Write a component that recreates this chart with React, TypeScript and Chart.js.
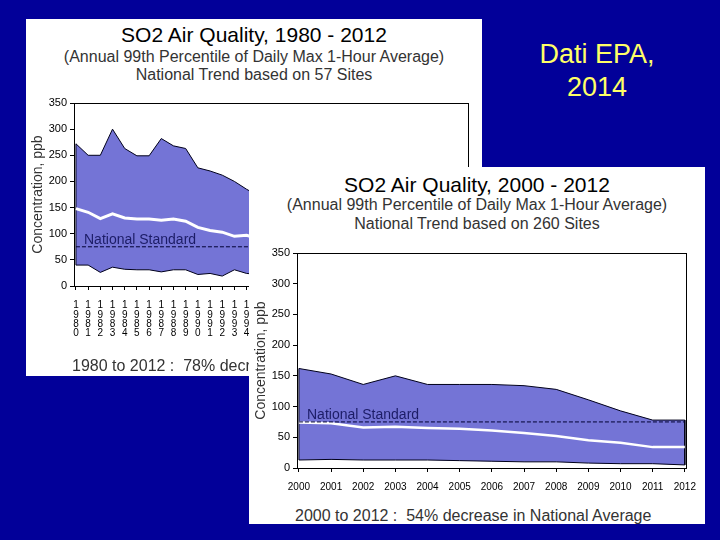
import React, { useEffect, useRef } from 'react';
import { Chart, registerables } from 'chart.js';

Chart.register(...registerables);
Chart.defaults.font.family = "'Liberation Sans', Arial, sans-serif";

// ---- Data: 1980 - 2012 (57 sites) ----
const years1980 = [1980, 1981, 1982, 1983, 1984, 1985, 1986, 1987, 1988, 1989, 1990, 1991, 1992, 1993, 1994, 1995, 1996, 1997, 1998, 1999, 2000, 2001, 2002, 2003, 2004, 2005, 2006, 2007, 2008, 2009, 2010, 2011, 2012];
const upper1980 = [272, 250, 250, 300, 263, 249, 249, 282, 268, 263, 226, 220, 212, 200, 185, 172, 168, 165, 160, 152, 142, 136, 122, 128, 120, 120, 116, 112, 104, 90, 78, 62, 58];
const mean1980 = [148, 141, 129, 138, 130, 128, 128, 126, 128, 124, 112, 106, 103, 95, 97, 90, 88, 86, 83, 79, 75, 73, 66, 67, 64, 63, 59, 56, 51, 44, 41, 35, 33];
const lower1980 = [40, 40, 26, 36, 32, 31, 31, 27, 31, 31, 22, 24, 19, 31, 24, 22, 21, 20, 18, 17, 15, 15, 13, 14, 12, 12, 11, 10, 9, 8, 7, 6, 5];

// ---- Data: 2000 - 2012 (260 sites) ----
const years2000 = [2000, 2001, 2002, 2003, 2004, 2005, 2006, 2007, 2008, 2009, 2010, 2011, 2012];
const upper2000 = [162, 153, 136, 150, 136, 136, 136, 134, 128, 111, 93, 78, 78];
const mean2000 = [74, 73, 66, 67, 65, 64, 61, 57, 52, 45, 41, 34, 34];
const lower2000 = [13, 14, 13, 13, 13, 12, 11, 10, 10, 8, 7, 7, 5];

const STANDARD = 75;
const Y_MIN = 0;
const Y_MAX = 350;
const Y_STEP = 50;
const Y_TITLE = 'Concentration, ppb';
const STANDARD_LABEL = 'National Standard';

const framePlugin = {
  id: 'frameAndLabel',
  afterDatasetsDraw(chart: any) {
    const { ctx, chartArea: a, scales } = chart;
    ctx.save();
    ctx.font = "14px 'Liberation Sans', Arial, sans-serif";
    ctx.fillStyle = '#1c1c66';
    ctx.textAlign = 'left';
    ctx.textBaseline = 'alphabetic';
    ctx.fillText(STANDARD_LABEL, a.left + 10, scales.y.getPixelForValue(STANDARD) - 3);
    ctx.restore();
  },
  afterDraw(chart: any) {
    const { ctx, chartArea: a } = chart;
    ctx.save();
    ctx.strokeStyle = '#000';
    ctx.lineWidth = 1;
    ctx.strokeRect(Math.round(a.left) + 0.5, Math.round(a.top) + 0.5, Math.round(a.right - a.left), Math.round(a.bottom - a.top));
    ctx.restore();
  },
};

type ChartProps = {
  years: number[];
  upper: number[];
  mean: number[];
  lower: number[];
  xMin: number;
  xMax: number;
  vertical: boolean;
  meanWidth: number;
  padTop: number;
  xHeight: number;
};

function TrendChart(p: ChartProps) {
  const ref = useRef<HTMLCanvasElement>(null);
  useEffect(() => {
    const band = [
      ...p.years.map((x, i) => ({ x, y: p.upper[i] })),
      ...p.years.map((x, i) => ({ x, y: p.lower[i] })).reverse(),
      { x: p.years[0], y: p.upper[0] },
    ];
    const first = p.years[0];
    const last = p.years[p.years.length - 1];
    const chart = new Chart(ref.current as HTMLCanvasElement, {
      type: 'line',
      data: {
        datasets: [
          {
            label: STANDARD_LABEL,
            data: [{ x: first, y: STANDARD }, { x: last, y: STANDARD }],
            borderColor: '#000033',
            borderWidth: 1,
            borderDash: [4, 2],
            pointRadius: 0,
            fill: false,
            order: 0,
          } as any,
          {
            label: 'National Average',
            data: p.years.map((x, i) => ({ x, y: p.mean[i] })),
            borderColor: '#ffffff',
            borderWidth: p.meanWidth,
            pointRadius: 0,
            fill: false,
            order: 1,
          } as any,
          {
            label: '90% / 10%',
            data: band,
            borderColor: '#00001a',
            borderWidth: 1,
            backgroundColor: '#7474d6',
            fill: 'shape',
            pointRadius: 0,
            order: 2,
          } as any,
        ],
      },
      options: {
        animation: false,
        responsive: false,
        maintainAspectRatio: false,
        layout: { padding: { left: 0, right: 14, top: p.padTop, bottom: 0 } },
        plugins: {
          legend: { display: false },
          tooltip: { enabled: false },
        },
        scales: {
          x: {
            type: 'linear',
            min: p.xMin,
            max: p.xMax,
            afterBuildTicks: (s: any) => {
              s.ticks = p.years.map((v) => ({ value: v }));
            },
            afterFit: (s: any) => {
              s.height = p.xHeight;
            },
            border: { display: false },
            grid: { display: true, drawOnChartArea: false, drawTicks: true, tickLength: 4, color: '#000', lineWidth: 1 },
            ticks: {
              autoSkip: false,
              maxRotation: 0,
              padding: p.vertical ? 11 : 9,
              color: '#000',
              font: p.vertical ? { size: 10, lineHeight: 0.93 } : { size: 10 },
              callback: (v: any) => (p.vertical ? String(v).split('') : String(v)),
            },
          },
          y: {
            min: Y_MIN,
            max: Y_MAX,
            afterFit: (s: any) => {
              s.width = 48;
            },
            border: { display: false },
            grid: { display: true, drawOnChartArea: false, drawTicks: true, tickLength: 4, color: '#000', lineWidth: 1 },
            ticks: { stepSize: Y_STEP, padding: 3, color: '#000', font: { size: 11 } },
            title: { display: true, text: Y_TITLE, color: '#333', font: { size: 14 }, padding: { top: 4, bottom: 0 } },
          },
        },
      } as any,
      plugins: [framePlugin],
    });
    return () => chart.destroy();
  }, []);
  return (
    <canvas
      ref={ref}
      width={456}
      height={270}
      style={{ position: 'absolute', left: 0, top: 70, width: 456, height: 270 }}
    />
  );
}

type PanelProps = {
  left: number;
  top: number;
  title: string;
  sub1: string;
  sub2: string;
  footer: string;
  tops: number[];
  chart: ChartProps;
};

function Panel(p: PanelProps) {
  const line = (text: string, top: number, size: number, color: string, align: 'center' | 'left', left = 0) => (
    <div
      style={{
        position: 'absolute',
        left: align === 'center' ? 0 : left,
        width: align === 'center' ? 456 : 440,
        top,
        fontSize: size,
        lineHeight: `${size}px`,
        color,
        textAlign: align,
        whiteSpace: 'pre',
      }}
    >
      {text}
    </div>
  );
  return (
    <div style={{ position: 'absolute', left: p.left, top: p.top, width: 456, height: 357, background: '#fff', overflow: 'hidden' }}>
      {line(p.title, p.tops[0], 21, '#000', 'center')}
      {line(p.sub1, p.tops[1], 16, '#333', 'center')}
      {line(p.sub2, p.tops[2], 16, '#333', 'center')}
      <TrendChart {...p.chart} />
      {line(p.footer, p.tops[3], 16, '#333', 'left', 46)}
    </div>
  );
}

export default function App() {
  return (
    <div
      style={{
        position: 'fixed',
        left: 0,
        top: 0,
        width: 720,
        height: 540,
        background: '#020099',
        overflow: 'hidden',
        fontFamily: "'Liberation Sans', Arial, sans-serif",
      }}
    >
      <div
        style={{
          position: 'absolute',
          left: 497,
          top: 38,
          width: 200,
          textAlign: 'center',
          color: '#ffff66',
          fontSize: 27,
          lineHeight: '33px',
        }}
      >
        Dati EPA,
        <br />
        2014
      </div>
      <Panel
        left={26}
        top={19}
        title="SO2 Air Quality, 1980 - 2012"
        sub1="(Annual 99th Percentile of Daily Max 1-Hour Average)"
        sub2="National Trend based on 57 Sites"
        footer="1980 to 2012 :  78% decrease in National Average"
        tops={[5, 29.5, 47.5, 338.5]}
        chart={{
          years: years1980,
          upper: upper1980,
          mean: mean1980,
          lower: lower1980,
          xMin: 1979.84,
          xMax: 2012.16,
          vertical: true,
          meanWidth: 3,
          padTop: 14,
          xHeight: 73,
        }}
      />
      <Panel
        left={249}
        top={167}
        title="SO2 Air Quality, 2000 - 2012"
        sub1="(Annual 99th Percentile of Daily Max 1-Hour Average)"
        sub2="National Trend based on 260 Sites"
        footer="2000 to 2012 :  54% decrease in National Average"
        tops={[7, 30, 48.5, 340.5]}
        chart={{
          years: years2000,
          upper: upper2000,
          mean: mean2000,
          lower: lower2000,
          xMin: 1999.94,
          xMax: 2012.04,
          vertical: false,
          meanWidth: 2.5,
          padTop: 16,
          xHeight: 39,
        }}
      />
    </div>
  );
}
